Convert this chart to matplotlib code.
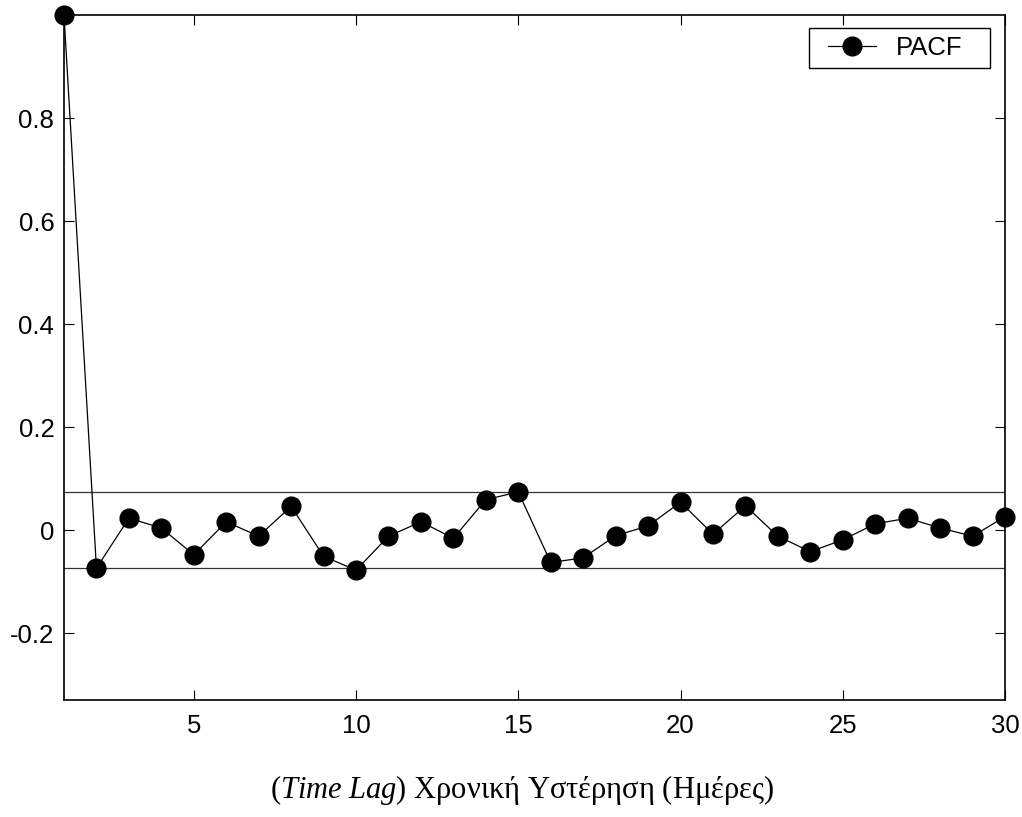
import matplotlib
matplotlib.use("Agg")
import matplotlib.pyplot as plt
from matplotlib.patches import Rectangle

lags = list(range(1, 31))
pacf = [1.0, -0.074, 0.023, 0.004, -0.048, 0.016, -0.012, 0.046, -0.051, -0.078,
        -0.012, 0.016, -0.016, 0.059, 0.074, -0.063, -0.054, -0.011, 0.008, 0.054,
        -0.008, 0.047, -0.012, -0.042, -0.019, 0.012, 0.023, 0.004, -0.012, 0.026]
conf = 0.0735
xticks = [5, 10, 15, 20, 25, 30]
yticks = [-0.2, 0, 0.2, 0.4, 0.6, 0.8]
ytick_labels = ["-0.2", "0", "0.2", "0.4", "0.6", "0.8"]
xlabel = r"($\mathit{Time\ Lag}$) Χρονική Υστέρηση (Ημέρες)"

plt.rcParams['mathtext.fontset'] = 'custom'
plt.rcParams['mathtext.it'] = 'Liberation Serif:italic'
plt.rcParams['mathtext.rm'] = 'Liberation Serif'

fig = plt.figure(figsize=(10.22, 8.17), dpi=100)
ax = fig.add_axes([64/1022, 1-700/817, (1005-64)/1022, (700-15)/817])

ax.axhline(conf, color='#333333', lw=0.9, zorder=1)
ax.axhline(-conf, color='#333333', lw=0.9, zorder=1)
ax.plot(lags, pacf, color='black', lw=0.9, marker='o', markersize=13.5,
        markerfacecolor='black', markeredgecolor='black', label='PACF', clip_on=False, zorder=3)

ax.set_xlim(1, 30)
ax.set_ylim(-0.33, 1.0)
ax.set_xticks(xticks)
ax.set_xticklabels([str(t) for t in xticks], fontfamily='Liberation Sans', fontsize=18.5)
ax.set_yticks(yticks)
ax.set_yticklabels(ytick_labels, fontfamily='Liberation Sans', fontsize=18.5)
ax.tick_params(axis='both', direction='in', length=7, width=0.8, top=True, right=True)
ax.tick_params(axis='x', pad=10)
ax.tick_params(axis='y', pad=7)
for s in ax.spines.values():
    s.set_linewidth(1.2)

# legend frame
frame = Rectangle((809/1022, 1-68/817), 181/1022, 40/817, transform=fig.transFigure,
                  facecolor='white', edgecolor='black', lw=1.0, zorder=4, clip_on=False)
ax.add_patch(frame)
leg = ax.legend(loc='center', bbox_to_anchor=(895/1022, 1-48/817), bbox_transform=fig.transFigure,
                prop={'family': 'Liberation Sans', 'size': 18.5},
                frameon=False, handlelength=1.9, handletextpad=0.75, borderpad=0)
leg.set_zorder(5)

fig.text(522/1022, 1-790/817, xlabel, ha='center', va='center',
         fontfamily='Liberation Serif', fontsize=22)

fig.savefig('out.png', dpi=100)
